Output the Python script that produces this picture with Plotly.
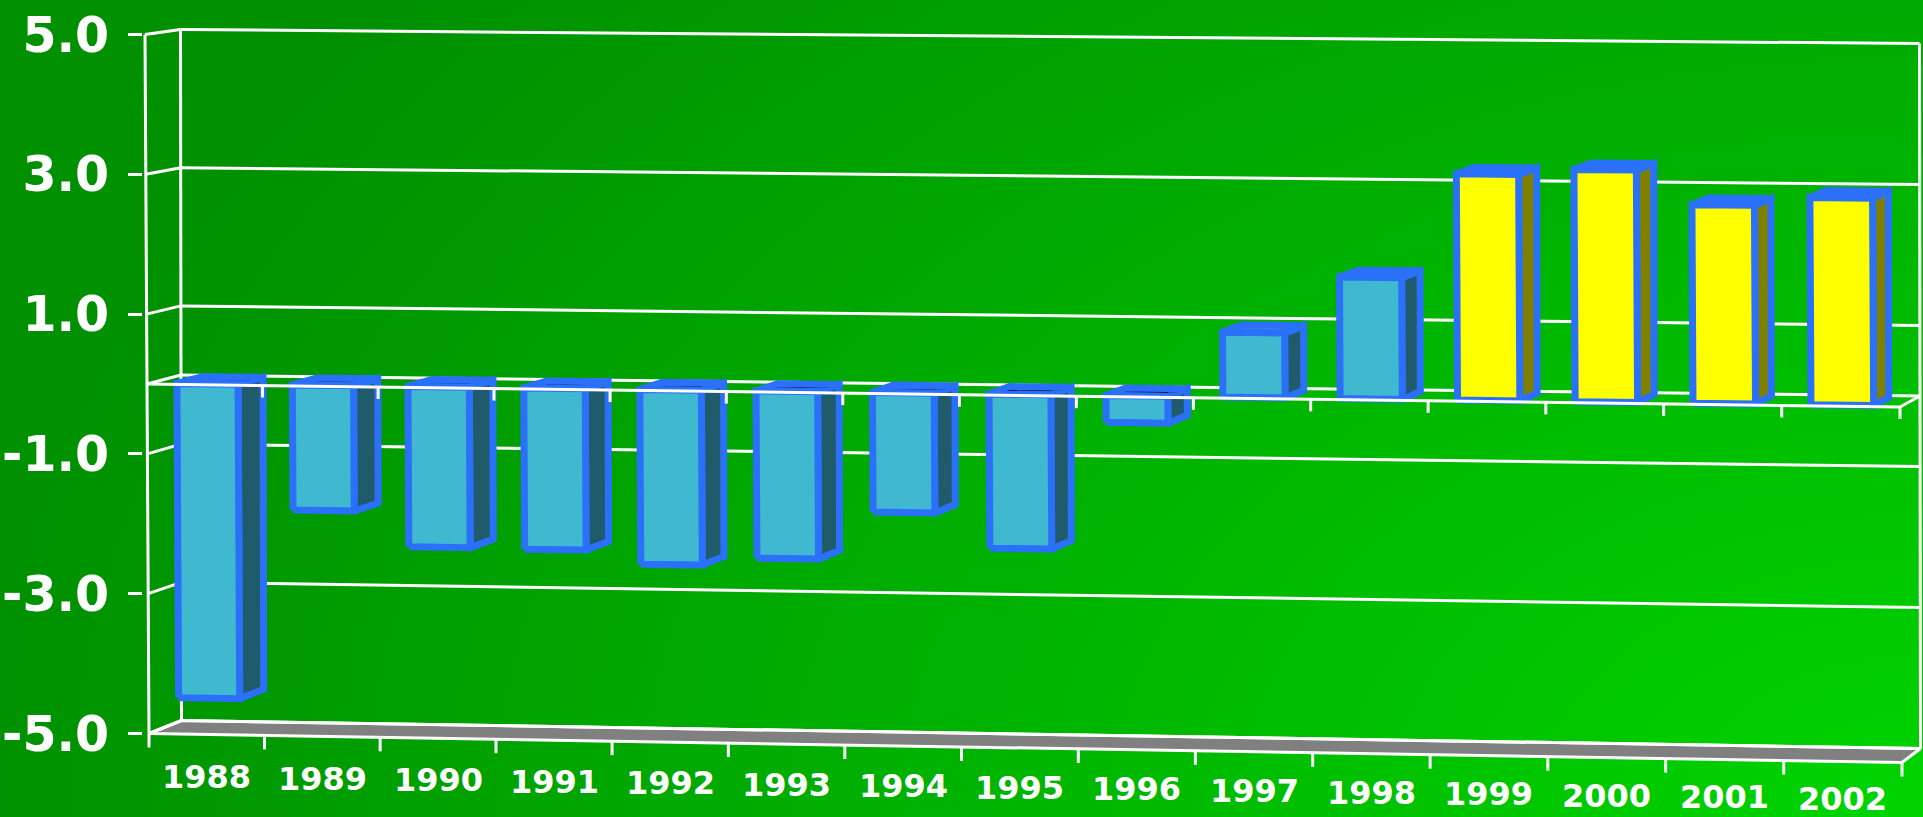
import base64
import plotly.graph_objects as go

# ---------------- data ----------------
YEARS = ['1988', '1989', '1990', '1991', '1992', '1993', '1994', '1995',
         '1996', '1997', '1998', '1999', '2000', '2001', '2002']
VALUES = [-4.50, -1.79, -2.29, -2.30, -2.49, -2.38, -1.70, -2.19,
          -0.38, 0.92, 1.72, 3.20, 3.28, 2.80, 2.92]
HIGHLIGHT = [False] * 11 + [True] * 4          # yellow bars
Y_TICKS = [-5, -3, -1, 1, 3, 5]
Y_TICK_LABELS = ['-5.0', '-3.0', '-1.0', '1.0', '3.0', '5.0']
Y_MIN, Y_MAX = -5, 5

# ---------------- style ----------------
W, H = 1923, 817
BAR_FACE = {False: '#40b8d0', True: '#ffff00'}
BAR_SIDE = {False: '#1f5b6b', True: '#808000'}
BAR_EDGE = '#2a70f8'
TOP_NEG = '#000000'
TOP_POS = '#6f9ae8'
FLOOR = '#808080'
WHITE = '#ffffff'

# ---------------- perspective-like view ----------------
N = len(YEARS)
PX_LEFT = 147.0      # model origin: front y axis column
PLOT_LEFT = 143.0    # left edge of the plot area
CAT_B = 0.10         # growth of category spacing to the right
FRONT_SPAN = 1753.0
CAT_A = (FRONT_SPAN - CAT_B * N * N) / N
BACK_LEFT, BACK_SPAN = 181.0, 1739.0
PX_UNIT = 69.9       # pixels per value unit on the front-left axis
ZERO_PX = 384.0      # pixel row of value 0 at the front-left axis
BAR_C0, BAR_C1 = 0.23, 0.76   # bar extent inside its category
BAR_D0, BAR_D1 = 0.10, 0.85   # bar extent in depth


def warp(c):
    return (CAT_A * c + CAT_B * c * c) / FRONT_SPAN


def project_px(c, v, d):
    u = warp(c)
    xf = PX_LEFT - 0.4 * v + FRONT_SPAN * u
    yf = ZERO_PX - PX_UNIT * v + u * (23 - 1.2 * v)
    xb = BACK_LEFT - 0.1 * v + BACK_SPAN * u
    yb = 375 - 69.1 * v + u * (21 - 1.4 * v)
    return xf + (xb - xf) * d, yf + (yb - yf) * d


def to_axis(xp, yp):
    return (xp - PX_LEFT) / CAT_A, (ZERO_PX - yp) / PX_UNIT


def project(c, v, d):
    return to_axis(*project_px(c, v, d))


X_RANGE = [(PLOT_LEFT - PX_LEFT) / CAT_A, (W - PX_LEFT) / CAT_A]
Y_RANGE = [(ZERO_PX - H) / PX_UNIT, ZERO_PX / PX_UNIT]


def add_poly(xs, ys, pts):
    for p in pts + [pts[0]]:
        x, y = project(*p)
        xs.append(x)
        ys.append(y)
    xs.append(None)
    ys.append(None)


def add_seg(xs, ys, p, q):
    for pt in (p, q):
        x, y = project(*pt)
        xs.append(x)
        ys.append(y)
    xs.append(None)
    ys.append(None)


def add_tick(xs, ys, c, v, length_px):
    xp, yp = project_px(c, v, 0)
    for py in (yp, yp + length_px):
        x, y = to_axis(xp, py)
        xs.append(x)
        ys.append(y)
    xs.append(None)
    ys.append(None)


fig = go.Figure()


def lines_trace(xs, ys, width, color=WHITE):
    fig.add_trace(go.Scatter(x=xs, y=ys, mode='lines', hoverinfo='skip',
                             line=dict(color=color, width=width),
                             showlegend=False))


def fill_trace(xs, ys, fill, edge, width):
    fig.add_trace(go.Scatter(x=xs, y=ys, mode='lines', fill='toself',
                             fillcolor=fill, hoverinfo='skip',
                             line=dict(color=edge, width=width),
                             showlegend=False))


# floor
fx, fy = [], []
add_poly(fx, fy, [(0, Y_MIN, 0), (N, Y_MIN, 0), (N, Y_MIN, 1), (0, Y_MIN, 1)])
fill_trace(fx, fy, FLOOR, WHITE, 3)

# walls: gridlines on back wall + left wall, verticals
gx, gy = [], []
for v in Y_TICKS:
    add_seg(gx, gy, (0, v, 1), (N, v, 1))
    add_seg(gx, gy, (0, v, 0), (0, v, 1))
add_seg(gx, gy, (0, Y_MIN, 1), (0, Y_MAX, 1))
add_seg(gx, gy, (N, Y_MIN, 1), (N, Y_MAX, 1))
add_seg(gx, gy, (0, Y_MIN, 0), (0, Y_MAX, 0))
lines_trace(gx, gy, 3)

# zero plane: back + side edges (behind the bars)
zx, zy = [], []
add_seg(zx, zy, (0, 0, 1), (N, 0, 1))
add_seg(zx, zy, (0, 0, 0), (0, 0, 1))
add_seg(zx, zy, (N, 0, 0), (N, 0, 1))
lines_trace(zx, zy, 3)

# bars
for hl in (False, True):
    sx, sy, tx, ty, tnx, tny, frx, fry = [], [], [], [], [], [], [], []
    for i, (val, h) in enumerate(zip(VALUES, HIGHLIGHT)):
        if h != hl:
            continue
        cl, cr = i + BAR_C0, i + BAR_C1
        top = max(val, 0)
        bot = min(val, 0)
        add_poly(sx, sy, [(cr, bot, BAR_D0), (cr, bot, BAR_D1),
                          (cr, top, BAR_D1), (cr, top, BAR_D0)])
        top_pts = [(cl, top, BAR_D0), (cr, top, BAR_D0),
                   (cr, top, BAR_D1), (cl, top, BAR_D1)]
        if val < 0:
            add_poly(tnx, tny, top_pts)
        else:
            add_poly(tx, ty, top_pts)
        add_poly(frx, fry, [(cl, bot, BAR_D0), (cr, bot, BAR_D0),
                            (cr, top, BAR_D0), (cl, top, BAR_D0)])
    if sx:
        fill_trace(sx, sy, BAR_SIDE[hl], BAR_EDGE, 7)
    if tnx:
        fill_trace(tnx, tny, TOP_NEG, BAR_EDGE, 7)
    if tx:
        fill_trace(tx, ty, TOP_POS, BAR_EDGE, 7)
    fill_trace(frx, fry, BAR_FACE[hl], BAR_EDGE, 7)

# category axis at zero (front edge) with ticks, drawn over bars
ax_x, ax_y = [], []
add_seg(ax_x, ax_y, (0, 0, 0), (N, 0, 0))
for c in range(1, N + 1):
    add_tick(ax_x, ax_y, c, 0, 12)
lines_trace(ax_x, ax_y, 3)

# ticks under floor front edge
tk_x, tk_y = [], []
for c in range(0, N + 1):
    add_tick(tk_x, tk_y, c, Y_MIN, 14)
lines_trace(tk_x, tk_y, 3)

# category labels
annotations = []
for i, year in enumerate(YEARS):
    c = i + 0.5
    x, y = project(c, Y_MIN, 0)
    annotations.append(dict(x=x, y=y, xref='x', yref='y', text=year,
                            showarrow=False, yshift=-(43 - 6 * warp(c)),
                            xanchor='center', yanchor='middle', borderpad=0,
                            font=dict(family='DejaVu Sans', size=32,
                                      color=WHITE, weight='bold')))

svg = ('<svg xmlns="http://www.w3.org/2000/svg" width="1923" height="817">'
       '<defs><radialGradient id="g" gradientUnits="userSpaceOnUse" '
       'cx="1923" cy="817" r="1950" '
       'gradientTransform="translate(1923 817) scale(1 0.67) translate(-1923 -817)">'
       '<stop offset="0" stop-color="#00d400"/>'
       '<stop offset="1" stop-color="#009000"/></radialGradient></defs>'
       '<rect width="1923" height="817" fill="url(#g)"/></svg>')
src = 'data:image/svg+xml;base64,' + base64.b64encode(svg.encode()).decode()

plot_w = W - PLOT_LEFT
fig.update_layout(
    width=W, height=H,
    margin=dict(l=PLOT_LEFT, r=0, t=0, b=0, pad=0),
    paper_bgcolor='#009200', plot_bgcolor='rgba(0,0,0,0)',
    images=[dict(source=src, xref='paper', yref='paper',
                 x=-PLOT_LEFT / plot_w, y=1, sizex=W / plot_w, sizey=1,
                 xanchor='left', yanchor='top', sizing='stretch',
                 layer='below')],
    xaxis=dict(range=X_RANGE, visible=False, fixedrange=True),
    yaxis=dict(range=Y_RANGE, tickvals=Y_TICKS, ticktext=Y_TICK_LABELS,
               showgrid=False, zeroline=False, showline=False,
               ticks='outside', ticklen=14, tickwidth=3, tickcolor=WHITE,
               ticklabelstandoff=9,
               tickfont=dict(family='DejaVu Sans', size=49, color=WHITE,
                             weight='bold'),
               fixedrange=True),
    annotations=annotations,
    showlegend=False,
)

fig.write_html('out.html', config={'displayModeBar': False},
               post_script="document.body.style.margin='0';"
                           "document.body.style.overflow='hidden';")
